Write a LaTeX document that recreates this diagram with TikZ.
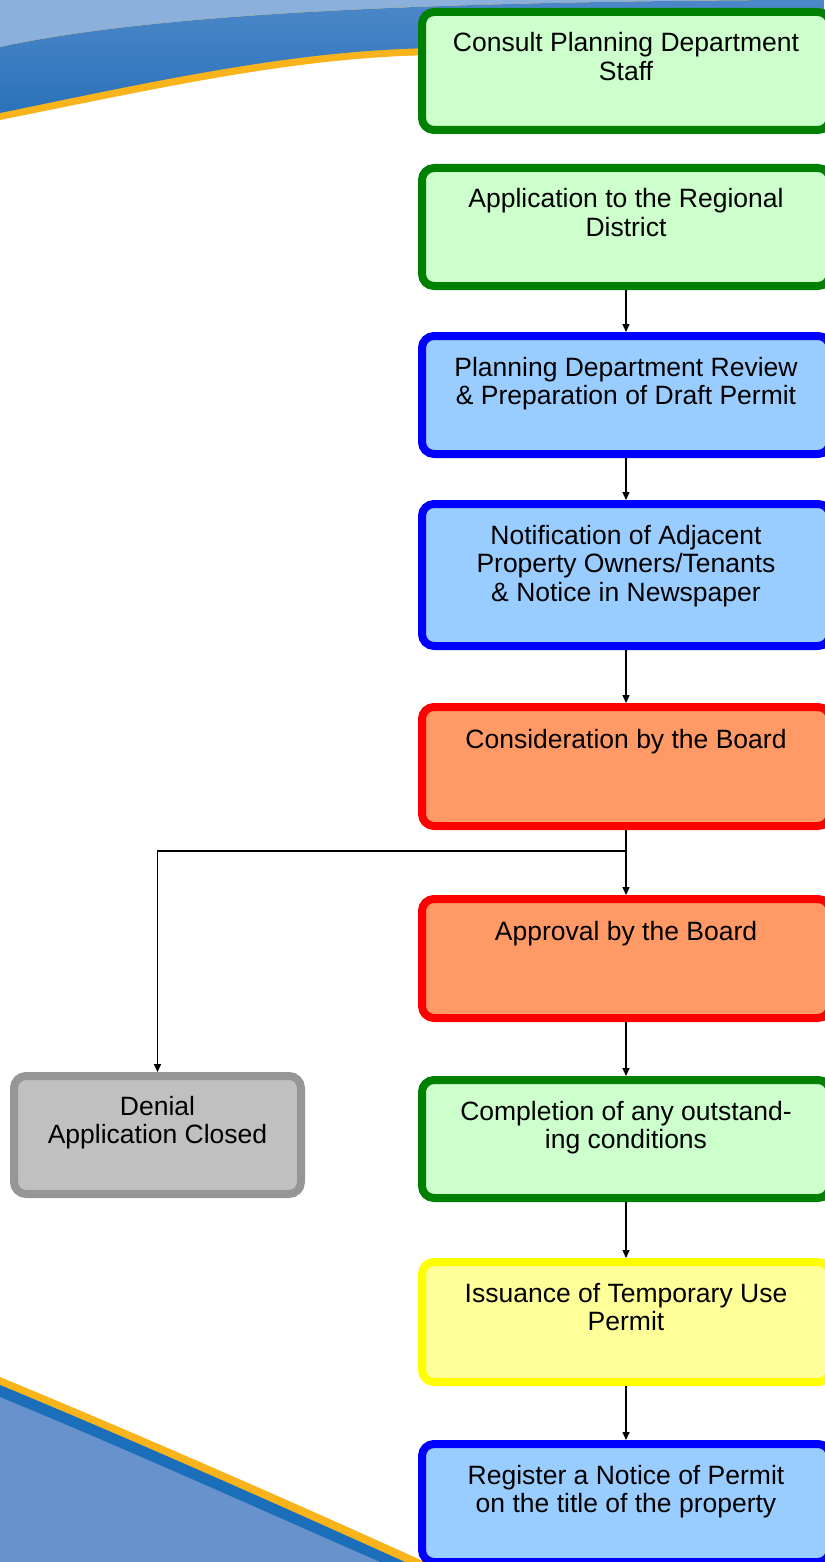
\documentclass[tikz,border=0pt]{standalone}
\usepackage{fontspec}
\setmainfont{Liberation Sans}
\usetikzlibrary{arrows.meta}
\definecolor{bgorange}{HTML}{F9B31B}
\definecolor{toplight}{HTML}{8BB0DB}
\definecolor{topdarkA}{HTML}{4C88C9}
\definecolor{topdarkB}{HTML}{2A72BA}
\definecolor{botband}{HTML}{1B6EB9}
\definecolor{botfill}{HTML}{6892CC}
\definecolor{gborder}{HTML}{008000}
\definecolor{gfill}{HTML}{CCFFCC}
\definecolor{bborder}{HTML}{0000FF}
\definecolor{bfill}{HTML}{99CCFF}
\definecolor{rborder}{HTML}{FF0000}
\definecolor{rfill}{HTML}{FF9966}
\definecolor{yborder}{HTML}{FFFF00}
\definecolor{yfill}{HTML}{FFFF99}
\definecolor{kborder}{HTML}{969696}
\definecolor{kfill}{HTML}{C0C0C0}
\begin{document}
\begin{tikzpicture}[x=1pt,y=-1pt,
  box/.style={draw, line width=8pt, rounded corners=12pt, minimum width=408pt, minimum height=118pt, inner sep=0pt},
  greenbox/.style={box, draw=gborder, fill=gfill},
  bluebox/.style={box, draw=bborder, fill=bfill},
  redbox/.style={box, draw=rborder, fill=rfill},
  yellowbox/.style={box, draw=yborder, fill=yfill},
  graybox/.style={box, draw=kborder, fill=kfill, minimum width=287pt},
  lbl/.style={anchor=base, align=center, inner sep=0pt, font=\fontsize{26.5}{28.5}\selectfont},
  arr/.style={line width=1.5pt, -{Triangle[length=8pt,width=7pt]}},
]
\useasboundingbox (0,0) rectangle (824,1562);
% background swooshes
\fill[toplight] (0,0) -- (0,47) .. controls (150,15) and (400,2) .. (790,0) -- cycle;
\fill[bgorange] (0,47) -- (0,120) .. controls (160,88) and (300,56) .. (440,55) -- (824,55) -- (824,0) -- (790,0) .. controls (400,2) and (150,15) .. (0,47);
\shade[top color=topdarkA, bottom color=topdarkB] (0,47) -- (0,113) .. controls (160,80) and (300,49) .. (440,48) -- (824,48) -- (824,0) -- (790,0) .. controls (400,2) and (150,15) .. (0,47);
\fill[bgorange] (0,1377) .. controls (140,1435) and (300,1505) .. (425,1562) -- (0,1562) -- cycle;
\fill[botband] (0,1385) .. controls (140,1443) and (290,1510) .. (405,1562) -- (0,1562) -- cycle;
\fill[botfill] (0,1397) .. controls (140,1455) and (270,1514) .. (380,1562) -- (0,1562) -- cycle;
% boxes
\node[greenbox] (b1) at (626,71) {};
\node[greenbox] (b2) at (626,227) {};
\node[bluebox] (b3) at (626,395) {};
\node[bluebox, minimum height=142pt] (b4) at (626,575) {};
\node[redbox, minimum height=119pt] (b5) at (626,766.5) {};
\node[redbox, minimum height=119pt] (b6) at (626,958.5) {};
\node[greenbox] (b7) at (626,1139) {};
\node[yellowbox, minimum height=120pt] (b8) at (626,1322) {};
\node[bluebox] (b9) at (626,1503) {};
\node[graybox] (deny) at (157.5,1135) {};
% labels (base = baseline of the last line)
\node[lbl] (t1) at (626,80.5) {Consult Planning Department\\Staff};
\node[lbl] (t2) at (626,236.5) {Application to the Regional\\District};
\node[lbl] (t3) at (626,404.5) {Planning Department Review\\\& Preparation of Draft Permit};
\node[lbl] (t4) at (626,601) {Notification of Adjacent\\Property Owners/Tenants\\\& Notice in Newspaper};
\node[lbl] (t5) at (626,748) {Consideration by the Board};
\node[lbl] (t6) at (626,940) {Approval by the Board};
\node[lbl] (t7) at (626,1148.5) {Completion of any outstand-\\ing conditions};
\node[lbl] (t8) at (626,1330.5) {Issuance of Temporary Use\\Permit};
\node[lbl] (t9) at (626,1512.5) {Register a Notice of Permit\\on the title of the property};
\node[lbl] (td) at (157.5,1143.5) {Denial\\Application Closed};
% connectors
\coordinate (split) at (626,851);
\draw[arr] (b2.south) -- (b3.north);
\draw[arr] (b3.south) -- (b4.north);
\draw[arr] (b4.south) -- (b5.north);
\draw[arr] (b5.south) -- (b6.north);
\draw[arr] (split) -| (deny.north);
\draw[arr] (b6.south) -- (b7.north);
\draw[arr] (b7.south) -- (b8.north);
\draw[arr] (b8.south) -- (b9.north);
\end{tikzpicture}
\end{document}
